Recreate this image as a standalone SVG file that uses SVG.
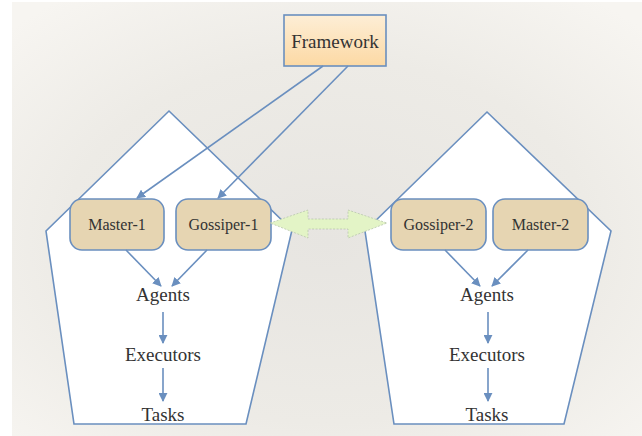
<svg xmlns="http://www.w3.org/2000/svg" width="642" height="436" viewBox="0 0 642 436">
  <defs>
    <radialGradient id="paper" cx="0.5" cy="0.55" r="0.7">
      <stop offset="0" stop-color="#e7e5e1"/>
      <stop offset="0.6" stop-color="#edebe6"/>
      <stop offset="1" stop-color="#f7f5f1"/>
    </radialGradient>
    <linearGradient id="fwFill" x1="0" y1="0" x2="0" y2="1">
      <stop offset="0" stop-color="#fdeed6"/>
      <stop offset="1" stop-color="#fcd9a4"/>
    </linearGradient>
    <marker id="head" viewBox="0 0 10 10" refX="9" refY="5" markerWidth="9" markerHeight="9" markerUnits="userSpaceOnUse" orient="auto">
      <path d="M0,0 L10,5 L0,10 z" fill="#6a8fbf"/>
    </marker>
  </defs>
  <style>
    .shell { fill: #ffffff; stroke: #6a8fbf; stroke-width: 1.6; }
    .box { fill: #e6d5b2; stroke: #6a8fbf; stroke-width: 1.6; }
    .label { fill: #333333; text-anchor: middle; }
    .lg { font-size: 19px; }
    .sm { font-size: 16px; }
    .link { stroke: #6a8fbf; stroke-width: 1.6; fill: none; marker-end: url(#head); }
  </style>

  <!-- backdrop -->
  <rect x="0" y="0" width="642" height="436" fill="#ffffff"/>
  <rect x="12" y="2" width="630" height="434" fill="url(#paper)"/>

  <!-- cluster outlines -->
  <g id="cluster-1">
    <polygon class="shell" points="169,111 292,230 246,424 74,424 46,231"/>
  </g>
  <g id="cluster-2">
    <polygon class="shell" points="487,112 611,231 564,424 394,424 365,231"/>
  </g>

  <g font-family="Liberation Serif, Times New Roman, DejaVu Serif, serif">
    <g id="framework">
      <rect x="284" y="15" width="102" height="51" fill="url(#fwFill)" stroke="#6a8fbf" stroke-width="1.6"/>
      <text class="label lg" x="335" y="48">Framework</text>
    </g>

    <g id="master-1">
      <rect class="box" x="70" y="199" width="94" height="51" rx="12"/>
      <text class="label sm" x="117" y="230">Master-1</text>
    </g>
    <g id="gossiper-1">
      <rect class="box" x="176" y="199" width="95" height="51" rx="12"/>
      <text class="label sm" x="223.5" y="230">Gossiper-1</text>
    </g>
    <g id="gossiper-2">
      <rect class="box" x="391" y="199" width="95" height="51" rx="12"/>
      <text class="label sm" x="438.5" y="230">Gossiper-2</text>
    </g>
    <g id="master-2">
      <rect class="box" x="493" y="199" width="95" height="51" rx="12"/>
      <text class="label sm" x="540.5" y="230">Master-2</text>
    </g>

    <g id="agents-1"><text class="label lg" x="163" y="301">Agents</text></g>
    <g id="executors-1"><text class="label lg" x="163" y="361">Executors</text></g>
    <g id="tasks-1"><text class="label lg" x="163" y="421">Tasks</text></g>
    <g id="agents-2"><text class="label lg" x="487" y="301">Agents</text></g>
    <g id="executors-2"><text class="label lg" x="487" y="361">Executors</text></g>
    <g id="tasks-2"><text class="label lg" x="487" y="421">Tasks</text></g>
  </g>

  <g id="connectors">
    <line class="link" x1="323" y1="66" x2="137" y2="198"/>
    <line class="link" x1="348" y1="66" x2="218" y2="198"/>
    <line class="link" x1="126" y1="250" x2="161" y2="286"/>
    <line class="link" x1="207" y1="250" x2="172" y2="286"/>
    <line class="link" x1="163" y1="312" x2="163" y2="343"/>
    <line class="link" x1="163" y1="368" x2="163" y2="401"/>
    <line class="link" x1="445" y1="250" x2="480" y2="286"/>
    <line class="link" x1="528" y1="250" x2="492" y2="286"/>
    <line class="link" x1="488" y1="312" x2="488" y2="343"/>
    <line class="link" x1="488" y1="368" x2="488" y2="401"/>
    <!-- gossip exchange -->
    <polygon points="270,223 308,210 308,219 348,219 348,210 387,223 348,238 348,229 308,229 308,238" fill="#e3f4c6" stroke="#b9c7ad" stroke-width="0.8" stroke-dasharray="2,1.5"/>
  </g>
</svg>
